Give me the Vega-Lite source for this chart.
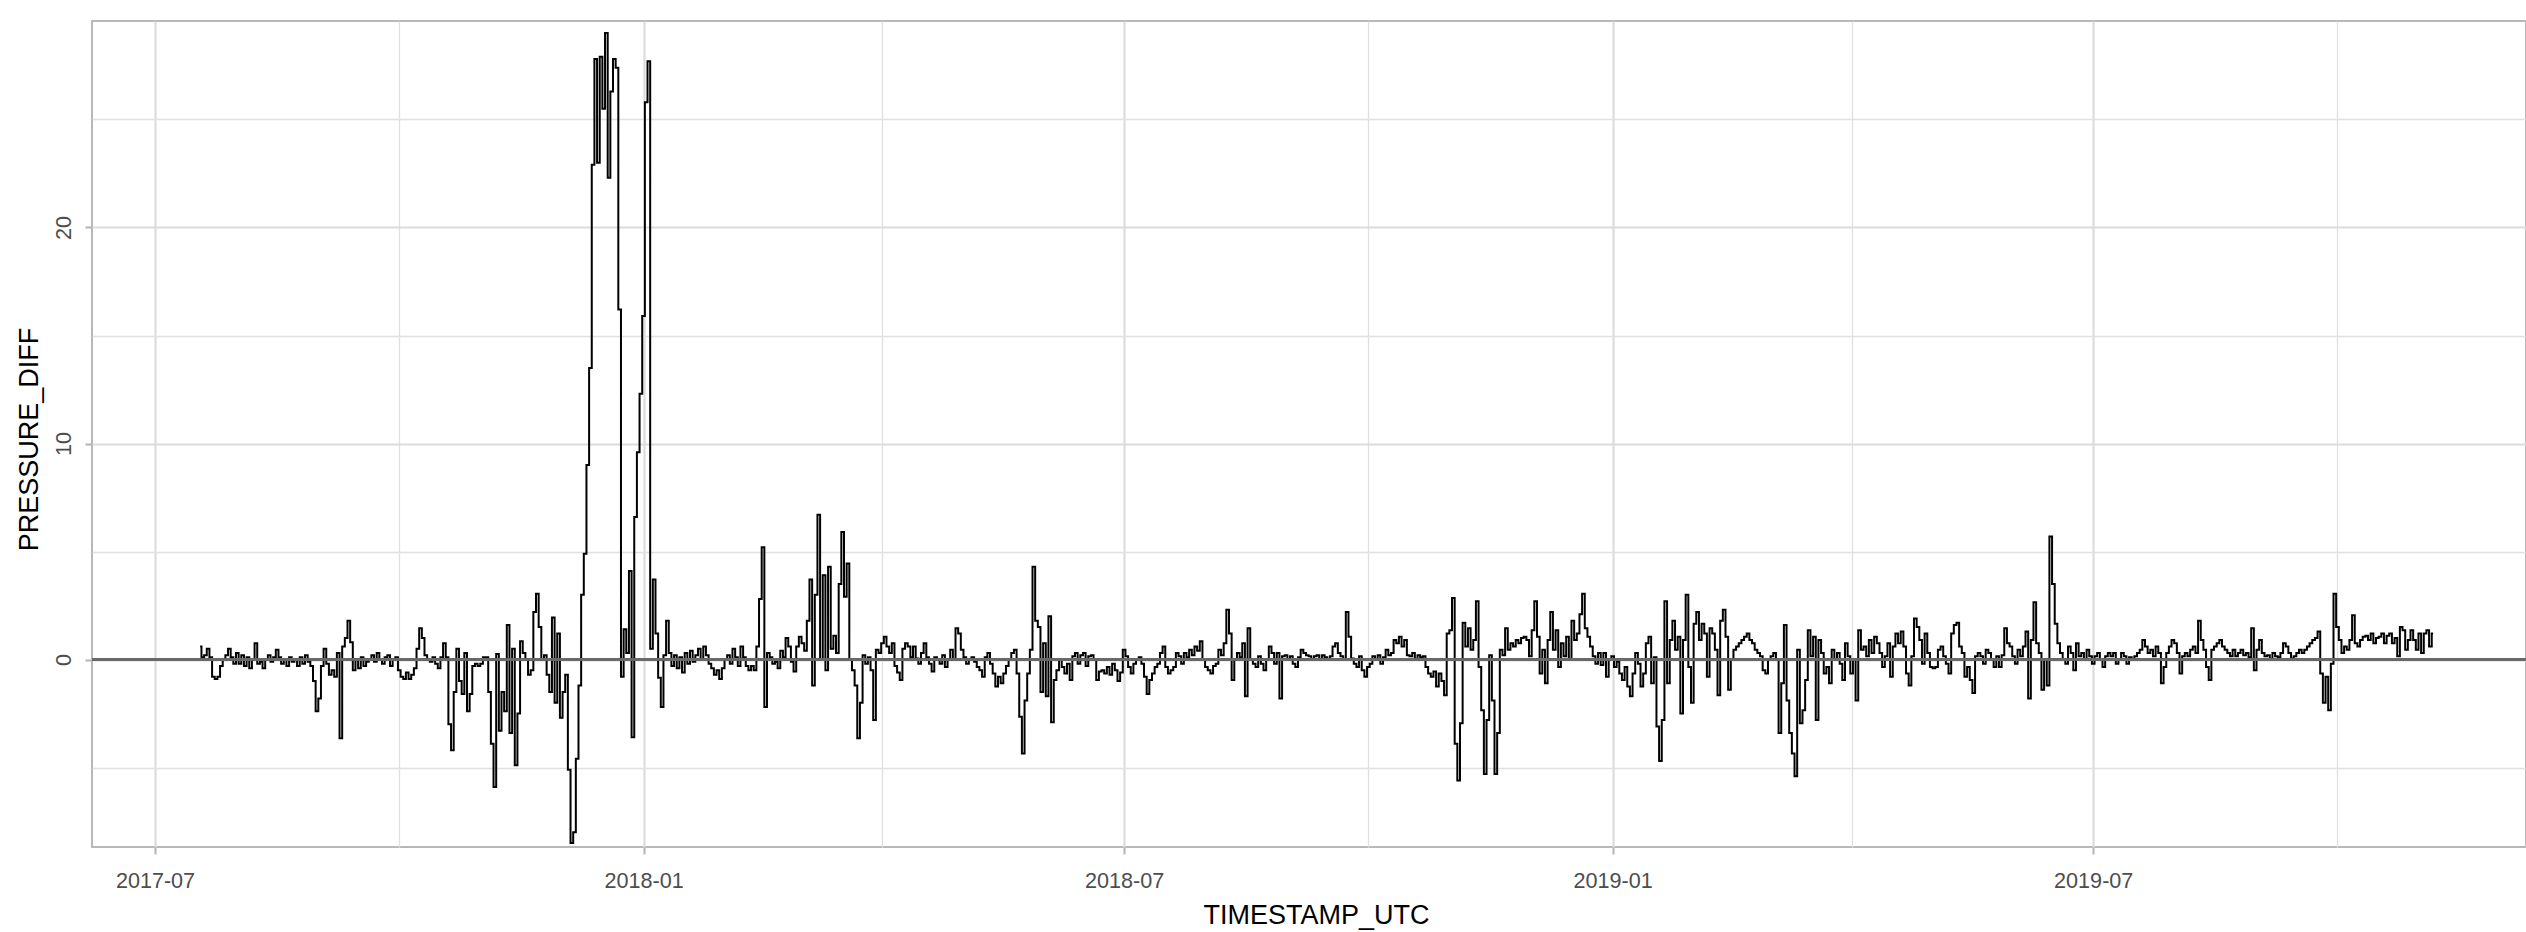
{
"$schema": "https://vega.github.io/schema/vega-lite/v6.json",
"width": 2434,
"height": 826,
"autosize": {"type": "none"},
"padding": {"left": 92, "top": 21, "right": 0, "bottom": 85},
"background": "white",
"config": {"view": {"stroke": "#b8b8b8", "strokeWidth": 2}, "font": "Liberation Sans"},
"data": {"values": [
{"t":"2017-07-18","v":0.6},{"t":"2017-07-19","v":0.1},{"t":"2017-07-20","v":0.2},{"t":"2017-07-21","v":0.5},{"t":"2017-07-22","v":0.1},{"t":"2017-07-23","v":-0.8},{"t":"2017-07-24","v":-0.9},{"t":"2017-07-25","v":-0.8},{"t":"2017-07-26","v":-0.3},{"t":"2017-07-27","v":0.0},{"t":"2017-07-28","v":0.2},{"t":"2017-07-29","v":0.5},{"t":"2017-07-30","v":0.1},{"t":"2017-07-31","v":-0.2},
{"t":"2017-08-01","v":0.3},{"t":"2017-08-02","v":-0.2},{"t":"2017-08-03","v":0.2},{"t":"2017-08-04","v":-0.3},{"t":"2017-08-05","v":0.1},{"t":"2017-08-06","v":-0.4},{"t":"2017-08-07","v":0.0},{"t":"2017-08-08","v":0.75},{"t":"2017-08-09","v":-0.2},{"t":"2017-08-10","v":-0.1},{"t":"2017-08-11","v":-0.4},{"t":"2017-08-12","v":0.0},{"t":"2017-08-13","v":0.2},{"t":"2017-08-14","v":-0.1},{"t":"2017-08-15","v":0.1},{"t":"2017-08-16","v":0.45},{"t":"2017-08-17","v":0.1},{"t":"2017-08-18","v":-0.2},{"t":"2017-08-19","v":0.0},{"t":"2017-08-20","v":-0.3},{"t":"2017-08-21","v":0.1},{"t":"2017-08-22","v":-0.1},{"t":"2017-08-23","v":0.0},{"t":"2017-08-24","v":-0.3},{"t":"2017-08-25","v":0.1},{"t":"2017-08-26","v":-0.2},{"t":"2017-08-27","v":0.2},{"t":"2017-08-28","v":-0.1},{"t":"2017-08-29","v":-0.3},{"t":"2017-08-30","v":-1.0},{"t":"2017-08-31","v":-2.4},
{"t":"2017-09-01","v":-1.8},{"t":"2017-09-02","v":-0.3},{"t":"2017-09-03","v":0.5},{"t":"2017-09-04","v":-0.2},{"t":"2017-09-05","v":-0.7},{"t":"2017-09-06","v":-0.5},{"t":"2017-09-07","v":-0.8},{"t":"2017-09-08","v":0.3},{"t":"2017-09-09","v":-3.65},{"t":"2017-09-10","v":0.6},{"t":"2017-09-11","v":1.0},{"t":"2017-09-12","v":1.8},{"t":"2017-09-13","v":0.8},{"t":"2017-09-14","v":-0.5},{"t":"2017-09-15","v":0.0},{"t":"2017-09-16","v":-0.4},{"t":"2017-09-17","v":0.1},{"t":"2017-09-18","v":-0.3},{"t":"2017-09-19","v":-0.1},{"t":"2017-09-20","v":0.0},{"t":"2017-09-21","v":0.2},{"t":"2017-09-22","v":-0.1},{"t":"2017-09-23","v":0.3},{"t":"2017-09-24","v":0.0},{"t":"2017-09-25","v":-0.2},{"t":"2017-09-26","v":0.1},{"t":"2017-09-27","v":0.2},{"t":"2017-09-28","v":-0.3},{"t":"2017-09-29","v":0.0},{"t":"2017-09-30","v":0.1},
{"t":"2017-10-01","v":-0.5},{"t":"2017-10-02","v":-0.8},{"t":"2017-10-03","v":-0.9},{"t":"2017-10-04","v":-0.6},{"t":"2017-10-05","v":-0.9},{"t":"2017-10-06","v":-0.7},{"t":"2017-10-07","v":-0.4},{"t":"2017-10-08","v":0.5},{"t":"2017-10-09","v":1.45},{"t":"2017-10-10","v":1.0},{"t":"2017-10-11","v":0.2},{"t":"2017-10-12","v":0.0},{"t":"2017-10-13","v":-0.1},{"t":"2017-10-14","v":0.1},{"t":"2017-10-15","v":-0.2},{"t":"2017-10-16","v":-0.4},{"t":"2017-10-17","v":0.1},{"t":"2017-10-18","v":0.75},{"t":"2017-10-19","v":0.1},{"t":"2017-10-20","v":-3.0},{"t":"2017-10-21","v":-4.2},{"t":"2017-10-22","v":-1.5},{"t":"2017-10-23","v":0.5},{"t":"2017-10-24","v":-1.0},{"t":"2017-10-25","v":-1.6},{"t":"2017-10-26","v":0.3},{"t":"2017-10-27","v":-2.4},{"t":"2017-10-28","v":-1.6},{"t":"2017-10-29","v":-0.3},{"t":"2017-10-30","v":-0.2},{"t":"2017-10-31","v":-0.3},
{"t":"2017-11-01","v":-0.2},{"t":"2017-11-02","v":0.1},{"t":"2017-11-03","v":0.1},{"t":"2017-11-04","v":-1.5},{"t":"2017-11-05","v":-3.9},{"t":"2017-11-06","v":-5.9},{"t":"2017-11-07","v":0.25},{"t":"2017-11-08","v":-3.3},{"t":"2017-11-09","v":-1.5},{"t":"2017-11-10","v":-2.4},{"t":"2017-11-11","v":1.6},{"t":"2017-11-12","v":-3.4},{"t":"2017-11-13","v":0.5},{"t":"2017-11-14","v":-4.9},{"t":"2017-11-15","v":-2.5},{"t":"2017-11-16","v":0.85},{"t":"2017-11-17","v":0.3},{"t":"2017-11-18","v":0.0},{"t":"2017-11-19","v":-0.7},{"t":"2017-11-20","v":-0.5},{"t":"2017-11-21","v":2.2},{"t":"2017-11-22","v":3.05},{"t":"2017-11-23","v":1.5},{"t":"2017-11-24","v":0.0},{"t":"2017-11-25","v":0.2},{"t":"2017-11-26","v":-0.7},{"t":"2017-11-27","v":-1.5},{"t":"2017-11-28","v":1.95},{"t":"2017-11-29","v":-2.0},{"t":"2017-11-30","v":1.2},
{"t":"2017-12-01","v":-2.7},{"t":"2017-12-02","v":-1.5},{"t":"2017-12-03","v":-0.7},{"t":"2017-12-04","v":-5.1},{"t":"2017-12-05","v":-8.5},{"t":"2017-12-06","v":-8.0},{"t":"2017-12-07","v":-4.6},{"t":"2017-12-08","v":-1.2},{"t":"2017-12-09","v":3.0},{"t":"2017-12-10","v":4.9},{"t":"2017-12-11","v":9.0},{"t":"2017-12-12","v":13.5},{"t":"2017-12-13","v":22.9},{"t":"2017-12-14","v":27.8},{"t":"2017-12-15","v":23.0},{"t":"2017-12-16","v":27.9},{"t":"2017-12-17","v":25.5},{"t":"2017-12-18","v":29.0},{"t":"2017-12-19","v":22.3},{"t":"2017-12-20","v":26.3},{"t":"2017-12-21","v":27.8},{"t":"2017-12-22","v":27.4},{"t":"2017-12-23","v":16.2},{"t":"2017-12-24","v":-0.8},{"t":"2017-12-25","v":1.4},{"t":"2017-12-26","v":0.3},{"t":"2017-12-27","v":4.1},{"t":"2017-12-28","v":-3.6},{"t":"2017-12-29","v":6.6},{"t":"2017-12-30","v":9.6},{"t":"2017-12-31","v":12.3},
{"t":"2018-01-01","v":15.9},{"t":"2018-01-02","v":25.8},{"t":"2018-01-03","v":27.7},{"t":"2018-01-04","v":0.5},{"t":"2018-01-05","v":3.7},{"t":"2018-01-06","v":1.2},{"t":"2018-01-07","v":-0.85},{"t":"2018-01-08","v":-2.2},{"t":"2018-01-09","v":0.2},{"t":"2018-01-10","v":1.8},{"t":"2018-01-11","v":0.3},{"t":"2018-01-12","v":-0.3},{"t":"2018-01-13","v":0.2},{"t":"2018-01-14","v":-0.4},{"t":"2018-01-15","v":0.1},{"t":"2018-01-16","v":-0.6},{"t":"2018-01-17","v":0.3},{"t":"2018-01-18","v":-0.2},{"t":"2018-01-19","v":0.4},{"t":"2018-01-20","v":-0.1},{"t":"2018-01-21","v":0.2},{"t":"2018-01-22","v":0.5},{"t":"2018-01-23","v":0.0},{"t":"2018-01-24","v":0.6},{"t":"2018-01-25","v":0.2},{"t":"2018-01-26","v":-0.2},{"t":"2018-01-27","v":-0.4},{"t":"2018-01-28","v":-0.7},{"t":"2018-01-29","v":-0.5},{"t":"2018-01-30","v":-0.9},{"t":"2018-01-31","v":-0.4},
{"t":"2018-02-01","v":0.0},{"t":"2018-02-02","v":0.2},{"t":"2018-02-03","v":-0.2},{"t":"2018-02-04","v":0.5},{"t":"2018-02-05","v":0.1},{"t":"2018-02-06","v":-0.3},{"t":"2018-02-07","v":0.6},{"t":"2018-02-08","v":0.1},{"t":"2018-02-09","v":-0.3},{"t":"2018-02-10","v":-0.5},{"t":"2018-02-11","v":-0.3},{"t":"2018-02-12","v":-0.5},{"t":"2018-02-13","v":0.6},{"t":"2018-02-14","v":2.8},{"t":"2018-02-15","v":5.2},{"t":"2018-02-16","v":-2.2},{"t":"2018-02-17","v":0.3},{"t":"2018-02-18","v":0.1},{"t":"2018-02-19","v":-0.2},{"t":"2018-02-20","v":-0.1},{"t":"2018-02-21","v":-0.4},{"t":"2018-02-22","v":0.4},{"t":"2018-02-23","v":0.1},{"t":"2018-02-24","v":1.0},{"t":"2018-02-25","v":0.6},{"t":"2018-02-26","v":-0.1},{"t":"2018-02-27","v":-0.55},{"t":"2018-02-28","v":0.6},
{"t":"2018-03-01","v":1.05},{"t":"2018-03-02","v":0.75},{"t":"2018-03-03","v":0.4},{"t":"2018-03-04","v":1.8},{"t":"2018-03-05","v":3.7},{"t":"2018-03-06","v":-1.2},{"t":"2018-03-07","v":3.0},{"t":"2018-03-08","v":6.7},{"t":"2018-03-09","v":0.0},{"t":"2018-03-10","v":3.9},{"t":"2018-03-11","v":-0.5},{"t":"2018-03-12","v":4.3},{"t":"2018-03-13","v":0.5},{"t":"2018-03-14","v":1.1},{"t":"2018-03-15","v":0.3},{"t":"2018-03-16","v":3.5},{"t":"2018-03-17","v":5.9},{"t":"2018-03-18","v":2.9},{"t":"2018-03-19","v":4.45},{"t":"2018-03-20","v":0.0},{"t":"2018-03-21","v":-0.5},{"t":"2018-03-22","v":-1.2},{"t":"2018-03-23","v":-3.65},{"t":"2018-03-24","v":-2.0},{"t":"2018-03-25","v":0.2},{"t":"2018-03-26","v":-0.2},{"t":"2018-03-27","v":0.1},{"t":"2018-03-28","v":-0.5},{"t":"2018-03-29","v":-2.8},{"t":"2018-03-30","v":0.45},{"t":"2018-03-31","v":0.3},
{"t":"2018-04-01","v":0.75},{"t":"2018-04-02","v":1.05},{"t":"2018-04-03","v":0.6},{"t":"2018-04-04","v":0.3},{"t":"2018-04-05","v":0.75},{"t":"2018-04-06","v":-0.3},{"t":"2018-04-07","v":-0.6},{"t":"2018-04-08","v":-0.95},{"t":"2018-04-09","v":0.5},{"t":"2018-04-10","v":0.75},{"t":"2018-04-11","v":0.6},{"t":"2018-04-12","v":0.1},{"t":"2018-04-13","v":0.6},{"t":"2018-04-14","v":0.05},{"t":"2018-04-15","v":-0.2},{"t":"2018-04-16","v":0.3},{"t":"2018-04-17","v":0.75},{"t":"2018-04-18","v":0.1},{"t":"2018-04-19","v":-0.2},{"t":"2018-04-20","v":-0.55},{"t":"2018-04-21","v":0.1},{"t":"2018-04-22","v":0.0},{"t":"2018-04-23","v":-0.2},{"t":"2018-04-24","v":0.2},{"t":"2018-04-25","v":-0.35},{"t":"2018-04-26","v":0.0},{"t":"2018-04-27","v":0.45},{"t":"2018-04-28","v":0.0},{"t":"2018-04-29","v":1.45},{"t":"2018-04-30","v":1.2},
{"t":"2018-05-01","v":0.45},{"t":"2018-05-02","v":0.1},{"t":"2018-05-03","v":-0.2},{"t":"2018-05-04","v":0.0},{"t":"2018-05-05","v":0.1},{"t":"2018-05-06","v":-0.1},{"t":"2018-05-07","v":-0.35},{"t":"2018-05-08","v":-0.5},{"t":"2018-05-09","v":-0.8},{"t":"2018-05-10","v":0.1},{"t":"2018-05-11","v":0.3},{"t":"2018-05-12","v":-0.2},{"t":"2018-05-13","v":-0.65},{"t":"2018-05-14","v":-1.25},{"t":"2018-05-15","v":-0.8},{"t":"2018-05-16","v":-1.1},{"t":"2018-05-17","v":-0.65},{"t":"2018-05-18","v":-0.3},{"t":"2018-05-19","v":0.0},{"t":"2018-05-20","v":0.3},{"t":"2018-05-21","v":0.45},{"t":"2018-05-22","v":-0.65},{"t":"2018-05-23","v":-2.65},{"t":"2018-05-24","v":-4.35},{"t":"2018-05-25","v":-1.9},{"t":"2018-05-26","v":-0.65},{"t":"2018-05-27","v":0.45},{"t":"2018-05-28","v":4.3},{"t":"2018-05-29","v":1.8},{"t":"2018-05-30","v":1.5},{"t":"2018-05-31","v":-1.5},
{"t":"2018-06-01","v":0.75},{"t":"2018-06-02","v":-1.7},{"t":"2018-06-03","v":2.0},{"t":"2018-06-04","v":-2.9},{"t":"2018-06-05","v":-0.95},{"t":"2018-06-06","v":-0.5},{"t":"2018-06-07","v":0.0},{"t":"2018-06-08","v":-0.35},{"t":"2018-06-09","v":-0.65},{"t":"2018-06-10","v":-0.2},{"t":"2018-06-11","v":-0.95},{"t":"2018-06-12","v":0.15},{"t":"2018-06-13","v":0.3},{"t":"2018-06-14","v":-0.2},{"t":"2018-06-15","v":0.2},{"t":"2018-06-16","v":0.3},{"t":"2018-06-17","v":-0.3},{"t":"2018-06-18","v":0.15},{"t":"2018-06-19","v":0.2},{"t":"2018-06-20","v":0.0},{"t":"2018-06-21","v":-0.95},{"t":"2018-06-22","v":-0.55},{"t":"2018-06-23","v":-0.5},{"t":"2018-06-24","v":-0.65},{"t":"2018-06-25","v":-0.35},{"t":"2018-06-26","v":-0.7},{"t":"2018-06-27","v":-0.2},{"t":"2018-06-28","v":-0.5},{"t":"2018-06-29","v":-1.0},{"t":"2018-06-30","v":-0.6},
{"t":"2018-07-01","v":0.45},{"t":"2018-07-02","v":0.15},{"t":"2018-07-03","v":-0.35},{"t":"2018-07-04","v":-0.65},{"t":"2018-07-05","v":-0.2},{"t":"2018-07-06","v":0.0},{"t":"2018-07-07","v":0.1},{"t":"2018-07-08","v":-0.2},{"t":"2018-07-09","v":-0.8},{"t":"2018-07-10","v":-1.6},{"t":"2018-07-11","v":-0.95},{"t":"2018-07-12","v":-0.65},{"t":"2018-07-13","v":-0.35},{"t":"2018-07-14","v":-0.2},{"t":"2018-07-15","v":0.3},{"t":"2018-07-16","v":0.6},{"t":"2018-07-17","v":-0.35},{"t":"2018-07-18","v":-0.65},{"t":"2018-07-19","v":-0.5},{"t":"2018-07-20","v":-0.35},{"t":"2018-07-21","v":0.3},{"t":"2018-07-22","v":0.15},{"t":"2018-07-23","v":-0.2},{"t":"2018-07-24","v":0.3},{"t":"2018-07-25","v":0.1},{"t":"2018-07-26","v":0.45},{"t":"2018-07-27","v":0.2},{"t":"2018-07-28","v":0.6},{"t":"2018-07-29","v":0.4},{"t":"2018-07-30","v":0.85},{"t":"2018-07-31","v":0.0},
{"t":"2018-08-01","v":-0.35},{"t":"2018-08-02","v":-0.5},{"t":"2018-08-03","v":-0.65},{"t":"2018-08-04","v":-0.3},{"t":"2018-08-05","v":-0.2},{"t":"2018-08-06","v":0.45},{"t":"2018-08-07","v":0.2},{"t":"2018-08-08","v":0.75},{"t":"2018-08-09","v":2.3},{"t":"2018-08-10","v":1.2},{"t":"2018-08-11","v":-0.95},{"t":"2018-08-12","v":0.0},{"t":"2018-08-13","v":0.3},{"t":"2018-08-14","v":0.1},{"t":"2018-08-15","v":0.75},{"t":"2018-08-16","v":-1.7},{"t":"2018-08-17","v":1.45},{"t":"2018-08-18","v":0.0},{"t":"2018-08-19","v":-0.2},{"t":"2018-08-20","v":-0.35},{"t":"2018-08-21","v":0.15},{"t":"2018-08-22","v":-0.2},{"t":"2018-08-23","v":-0.5},{"t":"2018-08-24","v":0.0},{"t":"2018-08-25","v":0.6},{"t":"2018-08-26","v":0.3},{"t":"2018-08-27","v":-0.2},{"t":"2018-08-28","v":0.3},{"t":"2018-08-29","v":-1.8},{"t":"2018-08-30","v":0.15},{"t":"2018-08-31","v":0.2},
{"t":"2018-09-01","v":0.0},{"t":"2018-09-02","v":0.15},{"t":"2018-09-03","v":-0.2},{"t":"2018-09-04","v":-0.35},{"t":"2018-09-05","v":0.1},{"t":"2018-09-06","v":0.45},{"t":"2018-09-07","v":0.3},{"t":"2018-09-08","v":0.2},{"t":"2018-09-09","v":0.15},{"t":"2018-09-10","v":0.0},{"t":"2018-09-11","v":0.15},{"t":"2018-09-12","v":0.2},{"t":"2018-09-13","v":0.0},{"t":"2018-09-14","v":0.2},{"t":"2018-09-15","v":0.1},{"t":"2018-09-16","v":0.0},{"t":"2018-09-17","v":0.15},{"t":"2018-09-18","v":0.6},{"t":"2018-09-19","v":0.75},{"t":"2018-09-20","v":0.3},{"t":"2018-09-21","v":0.15},{"t":"2018-09-22","v":0.0},{"t":"2018-09-23","v":2.2},{"t":"2018-09-24","v":1.05},{"t":"2018-09-25","v":0.05},{"t":"2018-09-26","v":-0.2},{"t":"2018-09-27","v":-0.35},{"t":"2018-09-28","v":0.15},{"t":"2018-09-29","v":-0.5},{"t":"2018-09-30","v":-0.8},
{"t":"2018-10-01","v":-0.35},{"t":"2018-10-02","v":-0.2},{"t":"2018-10-03","v":0.15},{"t":"2018-10-04","v":0.0},{"t":"2018-10-05","v":0.2},{"t":"2018-10-06","v":-0.2},{"t":"2018-10-07","v":0.1},{"t":"2018-10-08","v":0.45},{"t":"2018-10-09","v":0.2},{"t":"2018-10-10","v":0.3},{"t":"2018-10-11","v":0.9},{"t":"2018-10-12","v":0.75},{"t":"2018-10-13","v":1.05},{"t":"2018-10-14","v":0.6},{"t":"2018-10-15","v":0.9},{"t":"2018-10-16","v":0.2},{"t":"2018-10-17","v":0.15},{"t":"2018-10-18","v":0.3},{"t":"2018-10-19","v":0.0},{"t":"2018-10-20","v":0.2},{"t":"2018-10-21","v":0.1},{"t":"2018-10-22","v":0.15},{"t":"2018-10-23","v":-0.35},{"t":"2018-10-24","v":-0.65},{"t":"2018-10-25","v":-0.8},{"t":"2018-10-26","v":-0.55},{"t":"2018-10-27","v":-1.25},{"t":"2018-10-28","v":-0.65},{"t":"2018-10-29","v":-1.0},{"t":"2018-10-30","v":-1.65},{"t":"2018-10-31","v":1.2},
{"t":"2018-11-01","v":1.35},{"t":"2018-11-02","v":2.85},{"t":"2018-11-03","v":-3.9},{"t":"2018-11-04","v":-5.6},{"t":"2018-11-05","v":-2.95},{"t":"2018-11-06","v":1.7},{"t":"2018-11-07","v":0.6},{"t":"2018-11-08","v":1.45},{"t":"2018-11-09","v":0.45},{"t":"2018-11-10","v":0.9},{"t":"2018-11-11","v":2.7},{"t":"2018-11-12","v":-0.35},{"t":"2018-11-13","v":-2.35},{"t":"2018-11-14","v":-5.3},{"t":"2018-11-15","v":-2.8},{"t":"2018-11-16","v":0.2},{"t":"2018-11-17","v":-1.9},{"t":"2018-11-18","v":-5.3},{"t":"2018-11-19","v":-3.4},{"t":"2018-11-20","v":0.45},{"t":"2018-11-21","v":0.2},{"t":"2018-11-22","v":1.45},{"t":"2018-11-23","v":0.45},{"t":"2018-11-24","v":0.75},{"t":"2018-11-25","v":0.6},{"t":"2018-11-26","v":0.9},{"t":"2018-11-27","v":0.75},{"t":"2018-11-28","v":1.0},{"t":"2018-11-29","v":1.05},{"t":"2018-11-30","v":0.9},
{"t":"2018-12-01","v":0.15},{"t":"2018-12-02","v":1.35},{"t":"2018-12-03","v":2.7},{"t":"2018-12-04","v":1.05},{"t":"2018-12-05","v":-0.65},{"t":"2018-12-06","v":0.45},{"t":"2018-12-07","v":-1.1},{"t":"2018-12-08","v":0.9},{"t":"2018-12-09","v":2.2},{"t":"2018-12-10","v":0.45},{"t":"2018-12-11","v":1.35},{"t":"2018-12-12","v":-0.35},{"t":"2018-12-13","v":0.75},{"t":"2018-12-14","v":0.15},{"t":"2018-12-15","v":1.05},{"t":"2018-12-16","v":0.0},{"t":"2018-12-17","v":1.8},{"t":"2018-12-18","v":0.9},{"t":"2018-12-19","v":1.2},{"t":"2018-12-20","v":2.1},{"t":"2018-12-21","v":3.05},{"t":"2018-12-22","v":1.45},{"t":"2018-12-23","v":1.05},{"t":"2018-12-24","v":0.6},{"t":"2018-12-25","v":0.15},{"t":"2018-12-26","v":-0.2},{"t":"2018-12-27","v":0.3},{"t":"2018-12-28","v":-0.25},{"t":"2018-12-29","v":0.3},{"t":"2018-12-30","v":-0.8},{"t":"2018-12-31","v":0.0},
{"t":"2019-01-01","v":0.15},{"t":"2019-01-02","v":-0.35},{"t":"2019-01-03","v":-0.1},{"t":"2019-01-04","v":-0.65},{"t":"2019-01-05","v":-0.95},{"t":"2019-01-06","v":-0.35},{"t":"2019-01-07","v":-1.25},{"t":"2019-01-08","v":-1.7},{"t":"2019-01-09","v":-0.65},{"t":"2019-01-10","v":0.3},{"t":"2019-01-11","v":-0.2},{"t":"2019-01-12","v":-1.25},{"t":"2019-01-13","v":-0.65},{"t":"2019-01-14","v":0.75},{"t":"2019-01-15","v":1.05},{"t":"2019-01-16","v":-1.1},{"t":"2019-01-17","v":0.1},{"t":"2019-01-18","v":-3.1},{"t":"2019-01-19","v":-4.7},{"t":"2019-01-20","v":-2.8},{"t":"2019-01-21","v":2.7},{"t":"2019-01-22","v":-1.1},{"t":"2019-01-23","v":0.9},{"t":"2019-01-24","v":1.8},{"t":"2019-01-25","v":0.45},{"t":"2019-01-26","v":1.05},{"t":"2019-01-27","v":-2.5},{"t":"2019-01-28","v":0.9},{"t":"2019-01-29","v":3.0},{"t":"2019-01-30","v":-0.35},{"t":"2019-01-31","v":-2.0},
{"t":"2019-02-01","v":1.65},{"t":"2019-02-02","v":2.2},{"t":"2019-02-03","v":0.9},{"t":"2019-02-04","v":1.65},{"t":"2019-02-05","v":1.2},{"t":"2019-02-06","v":-0.8},{"t":"2019-02-07","v":1.45},{"t":"2019-02-08","v":1.2},{"t":"2019-02-09","v":0.45},{"t":"2019-02-10","v":-1.65},{"t":"2019-02-11","v":1.8},{"t":"2019-02-12","v":2.3},{"t":"2019-02-13","v":1.05},{"t":"2019-02-14","v":-1.4},{"t":"2019-02-15","v":0.0},{"t":"2019-02-16","v":0.45},{"t":"2019-02-17","v":0.6},{"t":"2019-02-18","v":0.75},{"t":"2019-02-19","v":0.9},{"t":"2019-02-20","v":1.05},{"t":"2019-02-21","v":1.2},{"t":"2019-02-22","v":0.9},{"t":"2019-02-23","v":0.75},{"t":"2019-02-24","v":0.45},{"t":"2019-02-25","v":0.3},{"t":"2019-02-26","v":0.15},{"t":"2019-02-27","v":-0.5},{"t":"2019-02-28","v":-0.65},
{"t":"2019-03-01","v":0.0},{"t":"2019-03-02","v":0.15},{"t":"2019-03-03","v":0.3},{"t":"2019-03-04","v":0.0},{"t":"2019-03-05","v":-3.4},{"t":"2019-03-06","v":-1.1},{"t":"2019-03-07","v":1.6},{"t":"2019-03-08","v":-1.9},{"t":"2019-03-09","v":-3.4},{"t":"2019-03-10","v":-4.35},{"t":"2019-03-11","v":-5.4},{"t":"2019-03-12","v":0.45},{"t":"2019-03-13","v":-2.95},{"t":"2019-03-14","v":-2.35},{"t":"2019-03-15","v":-0.95},{"t":"2019-03-16","v":1.35},{"t":"2019-03-17","v":0.15},{"t":"2019-03-18","v":1.05},{"t":"2019-03-19","v":-2.8},{"t":"2019-03-20","v":0.9},{"t":"2019-03-21","v":0.3},{"t":"2019-03-22","v":-0.65},{"t":"2019-03-23","v":-0.35},{"t":"2019-03-24","v":-1.1},{"t":"2019-03-25","v":0.45},{"t":"2019-03-26","v":0.0},{"t":"2019-03-27","v":0.3},{"t":"2019-03-28","v":-0.2},{"t":"2019-03-29","v":-0.95},{"t":"2019-03-30","v":0.75},{"t":"2019-03-31","v":0.15},
{"t":"2019-04-01","v":-0.65},{"t":"2019-04-02","v":0.0},{"t":"2019-04-03","v":-1.9},{"t":"2019-04-04","v":1.35},{"t":"2019-04-05","v":0.45},{"t":"2019-04-06","v":0.6},{"t":"2019-04-07","v":0.15},{"t":"2019-04-08","v":0.9},{"t":"2019-04-09","v":0.3},{"t":"2019-04-10","v":1.05},{"t":"2019-04-11","v":0.75},{"t":"2019-04-12","v":0.3},{"t":"2019-04-13","v":-0.35},{"t":"2019-04-14","v":0.15},{"t":"2019-04-15","v":0.75},{"t":"2019-04-16","v":-0.8},{"t":"2019-04-17","v":0.6},{"t":"2019-04-18","v":1.2},{"t":"2019-04-19","v":0.75},{"t":"2019-04-20","v":1.3},{"t":"2019-04-21","v":0.6},{"t":"2019-04-22","v":-0.65},{"t":"2019-04-23","v":-1.2},{"t":"2019-04-24","v":0.15},{"t":"2019-04-25","v":1.9},{"t":"2019-04-26","v":1.5},{"t":"2019-04-27","v":0.9},{"t":"2019-04-28","v":-0.2},{"t":"2019-04-29","v":1.2},{"t":"2019-04-30","v":0.3},
{"t":"2019-05-01","v":-0.35},{"t":"2019-05-02","v":-0.4},{"t":"2019-05-03","v":-0.35},{"t":"2019-05-04","v":0.45},{"t":"2019-05-05","v":0.6},{"t":"2019-05-06","v":0.15},{"t":"2019-05-07","v":-0.2},{"t":"2019-05-08","v":-0.65},{"t":"2019-05-09","v":1.2},{"t":"2019-05-10","v":1.6},{"t":"2019-05-11","v":1.7},{"t":"2019-05-12","v":0.6},{"t":"2019-05-13","v":0.3},{"t":"2019-05-14","v":-0.8},{"t":"2019-05-15","v":-0.35},{"t":"2019-05-16","v":-0.95},{"t":"2019-05-17","v":-1.55},{"t":"2019-05-18","v":0.15},{"t":"2019-05-19","v":0.3},{"t":"2019-05-20","v":0.15},{"t":"2019-05-21","v":-0.2},{"t":"2019-05-22","v":0.45},{"t":"2019-05-23","v":0.3},{"t":"2019-05-24","v":0.0},{"t":"2019-05-25","v":-0.35},{"t":"2019-05-26","v":0.15},{"t":"2019-05-27","v":-0.35},{"t":"2019-05-28","v":0.2},{"t":"2019-05-29","v":1.45},{"t":"2019-05-30","v":0.75},{"t":"2019-05-31","v":0.6},
{"t":"2019-06-01","v":0.15},{"t":"2019-06-02","v":-0.2},{"t":"2019-06-03","v":0.45},{"t":"2019-06-04","v":0.15},{"t":"2019-06-05","v":0.6},{"t":"2019-06-06","v":1.3},{"t":"2019-06-07","v":-1.8},{"t":"2019-06-08","v":0.9},{"t":"2019-06-09","v":2.65},{"t":"2019-06-10","v":0.75},{"t":"2019-06-11","v":0.3},{"t":"2019-06-12","v":-1.4},{"t":"2019-06-13","v":0.0},{"t":"2019-06-14","v":-1.2},{"t":"2019-06-15","v":5.7},{"t":"2019-06-16","v":3.5},{"t":"2019-06-17","v":1.65},{"t":"2019-06-18","v":0.75},{"t":"2019-06-19","v":0.3},{"t":"2019-06-20","v":0.0},{"t":"2019-06-21","v":-0.2},{"t":"2019-06-22","v":0.6},{"t":"2019-06-23","v":0.3},{"t":"2019-06-24","v":-0.5},{"t":"2019-06-25","v":0.75},{"t":"2019-06-26","v":0.15},{"t":"2019-06-27","v":0.3},{"t":"2019-06-28","v":0.0},{"t":"2019-06-29","v":0.45},{"t":"2019-06-30","v":0.15},
{"t":"2019-07-01","v":-0.2},{"t":"2019-07-02","v":0.15},{"t":"2019-07-03","v":0.3},{"t":"2019-07-04","v":0.0},{"t":"2019-07-05","v":-0.35},{"t":"2019-07-06","v":0.15},{"t":"2019-07-07","v":0.3},{"t":"2019-07-08","v":0.15},{"t":"2019-07-09","v":0.3},{"t":"2019-07-10","v":-0.2},{"t":"2019-07-11","v":0.0},{"t":"2019-07-12","v":0.3},{"t":"2019-07-13","v":0.15},{"t":"2019-07-14","v":-0.2},{"t":"2019-07-15","v":0.1},{"t":"2019-07-16","v":0.0},{"t":"2019-07-17","v":0.15},{"t":"2019-07-18","v":0.3},{"t":"2019-07-19","v":0.45},{"t":"2019-07-20","v":0.9},{"t":"2019-07-21","v":0.6},{"t":"2019-07-22","v":0.3},{"t":"2019-07-23","v":0.45},{"t":"2019-07-24","v":0.15},{"t":"2019-07-25","v":0.6},{"t":"2019-07-26","v":0.3},{"t":"2019-07-27","v":-1.1},{"t":"2019-07-28","v":-0.35},{"t":"2019-07-29","v":0.3},{"t":"2019-07-30","v":0.6},{"t":"2019-07-31","v":0.9},
{"t":"2019-08-01","v":0.75},{"t":"2019-08-02","v":0.3},{"t":"2019-08-03","v":-0.65},{"t":"2019-08-04","v":0.15},{"t":"2019-08-05","v":0.3},{"t":"2019-08-06","v":0.15},{"t":"2019-08-07","v":0.45},{"t":"2019-08-08","v":0.6},{"t":"2019-08-09","v":0.3},{"t":"2019-08-10","v":1.8},{"t":"2019-08-11","v":0.9},{"t":"2019-08-12","v":0.45},{"t":"2019-08-13","v":-0.35},{"t":"2019-08-14","v":-0.95},{"t":"2019-08-15","v":0.45},{"t":"2019-08-16","v":0.6},{"t":"2019-08-17","v":0.75},{"t":"2019-08-18","v":0.9},{"t":"2019-08-19","v":0.6},{"t":"2019-08-20","v":0.45},{"t":"2019-08-21","v":0.3},{"t":"2019-08-22","v":0.15},{"t":"2019-08-23","v":0.45},{"t":"2019-08-24","v":0.15},{"t":"2019-08-25","v":0.3},{"t":"2019-08-26","v":0.45},{"t":"2019-08-27","v":0.2},{"t":"2019-08-28","v":0.3},{"t":"2019-08-29","v":0.1},{"t":"2019-08-30","v":1.45},{"t":"2019-08-31","v":-0.5},
{"t":"2019-09-01","v":0.45},{"t":"2019-09-02","v":0.9},{"t":"2019-09-03","v":0.3},{"t":"2019-09-04","v":0.15},{"t":"2019-09-05","v":0.2},{"t":"2019-09-06","v":0.0},{"t":"2019-09-07","v":0.3},{"t":"2019-09-08","v":0.15},{"t":"2019-09-09","v":0.1},{"t":"2019-09-10","v":0.3},{"t":"2019-09-11","v":0.75},{"t":"2019-09-12","v":0.6},{"t":"2019-09-13","v":0.3},{"t":"2019-09-14","v":0.05},{"t":"2019-09-15","v":0.15},{"t":"2019-09-16","v":0.3},{"t":"2019-09-17","v":0.45},{"t":"2019-09-18","v":0.3},{"t":"2019-09-19","v":0.45},{"t":"2019-09-20","v":0.6},{"t":"2019-09-21","v":0.75},{"t":"2019-09-22","v":0.9},{"t":"2019-09-23","v":1.0},{"t":"2019-09-24","v":1.3},{"t":"2019-09-25","v":-0.65},{"t":"2019-09-26","v":-2.0},{"t":"2019-09-27","v":-0.8},{"t":"2019-09-28","v":-2.35},{"t":"2019-09-29","v":-0.2},{"t":"2019-09-30","v":3.05},
{"t":"2019-10-01","v":1.5},{"t":"2019-10-02","v":0.9},{"t":"2019-10-03","v":0.3},{"t":"2019-10-04","v":0.6},{"t":"2019-10-05","v":0.45},{"t":"2019-10-06","v":0.9},{"t":"2019-10-07","v":2.05},{"t":"2019-10-08","v":0.75},{"t":"2019-10-09","v":0.6},{"t":"2019-10-10","v":0.9},{"t":"2019-10-11","v":1.05},{"t":"2019-10-12","v":1.1},{"t":"2019-10-13","v":0.9},{"t":"2019-10-14","v":1.2},{"t":"2019-10-15","v":0.75},{"t":"2019-10-16","v":1.0},{"t":"2019-10-17","v":1.05},{"t":"2019-10-18","v":1.2},{"t":"2019-10-19","v":0.75},{"t":"2019-10-20","v":1.1},{"t":"2019-10-21","v":1.2},{"t":"2019-10-22","v":0.75},{"t":"2019-10-23","v":1.0},{"t":"2019-10-24","v":0.15},{"t":"2019-10-25","v":1.5},{"t":"2019-10-26","v":1.35},{"t":"2019-10-27","v":0.45},{"t":"2019-10-28","v":0.9},{"t":"2019-10-29","v":1.35},{"t":"2019-10-30","v":0.9},{"t":"2019-10-31","v":0.45},
{"t":"2019-11-01","v":1.2},{"t":"2019-11-02","v":0.3},{"t":"2019-11-03","v":1.2},{"t":"2019-11-04","v":1.35},{"t":"2019-11-05","v":0.6},{"t":"2019-11-06","v":1.2}
]},
"layer": [
{
"mark": {"type": "line", "opacity": 0},
"encoding": {
"x": {"field": "t", "type": "temporal",
"scale": {"type": "utc", "domain": [{"year": 2017, "month": 6, "date": 7, "hours": 6, "minutes": 30, "utc": true}, {"year": 2019, "month": 12, "date": 11, "utc": true}]},
"axis": {"orient": "top", "values": [{"year": 2017, "month": 10, "date": 1, "utc": true}, {"year": 2018, "month": 4, "date": 1, "utc": true}, {"year": 2018, "month": 10, "date": 1, "utc": true}, {"year": 2019, "month": 4, "date": 1, "utc": true}, {"year": 2019, "month": 10, "date": 1, "utc": true}],
"grid": true, "gridColor": "#e0e0e0", "gridWidth": 1.3, "labels": false, "ticks": false, "domain": false, "title": null}},
"y": {"field": "v", "type": "quantitative",
"scale": {"domain": [-8.68, 29.56], "nice": false, "zero": false},
"axis": {"orient": "right", "values": [-5, 5, 15, 25], "grid": true, "gridColor": "#e0e0e0", "gridWidth": 1.3, "labels": false, "ticks": false, "domain": false, "title": null}}
}
},
{
"mark": {"type": "line", "color": "black", "strokeWidth": 2, "interpolate": "step"},
"encoding": {
"x": {"field": "t", "type": "temporal",
"scale": {"type": "utc", "domain": [{"year": 2017, "month": 6, "date": 7, "hours": 6, "minutes": 30, "utc": true}, {"year": 2019, "month": 12, "date": 11, "utc": true}]},
"axis": {"orient": "bottom", "values": [{"year": 2017, "month": 7, "date": 1, "utc": true}, {"year": 2018, "month": 1, "date": 1, "utc": true}, {"year": 2018, "month": 7, "date": 1, "utc": true}, {"year": 2019, "month": 1, "date": 1, "utc": true}, {"year": 2019, "month": 7, "date": 1, "utc": true}],
"format": "%Y-%m", "grid": true, "gridColor": "#dcdcdc", "gridWidth": 2.2, "domain": false,
"ticks": true, "tickColor": "#b3b3b3", "tickWidth": 2, "tickSize": 7,
"labelFont": "Liberation Sans", "labelFontSize": 21.6, "labelColor": "#4d4d4d", "labelPadding": 16, "labelFlush": false, "labelOverlap": false,
"title": "TIMESTAMP_UTC", "titleFont": "Liberation Sans", "titleFontSize": 27, "titleFontWeight": "normal", "titleColor": "#000000",
"titleX": 1224, "titleY": 68, "titleAlign": "center", "titleBaseline": "middle", "titleAnchor": null}},
"y": {"field": "v", "type": "quantitative",
"scale": {"domain": [-8.68, 29.56], "nice": false, "zero": false},
"axis": {"orient": "left", "values": [0, 10, 20], "grid": true, "gridColor": "#dcdcdc", "gridWidth": 2.2, "domain": false,
"ticks": true, "tickColor": "#b3b3b3", "tickWidth": 2, "tickSize": 7,
"labelFont": "Liberation Sans", "labelFontSize": 21.6, "labelColor": "#4d4d4d", "labelAngle": -90, "labelAlign": "center", "labelBaseline": "middle", "labelPadding": 21,
"title": "PRESSURE_DIFF", "titleFont": "Liberation Sans", "titleFontSize": 27, "titleFontWeight": "normal", "titleColor": "#000000",
"titleAngle": -90, "titleX": -63, "titleY": 418, "titleAlign": "center", "titleBaseline": "middle"}}
}
},
{
"mark": {"type": "rule", "color": "#6a6a6a", "strokeWidth": 1.7},
"encoding": {"y": {"datum": 0, "type": "quantitative", "scale": {"domain": [-8.68, 29.56], "nice": false, "zero": false}, "axis": null}}
}
],
"resolve": {"axis": {"x": "independent", "y": "independent"}}
}
